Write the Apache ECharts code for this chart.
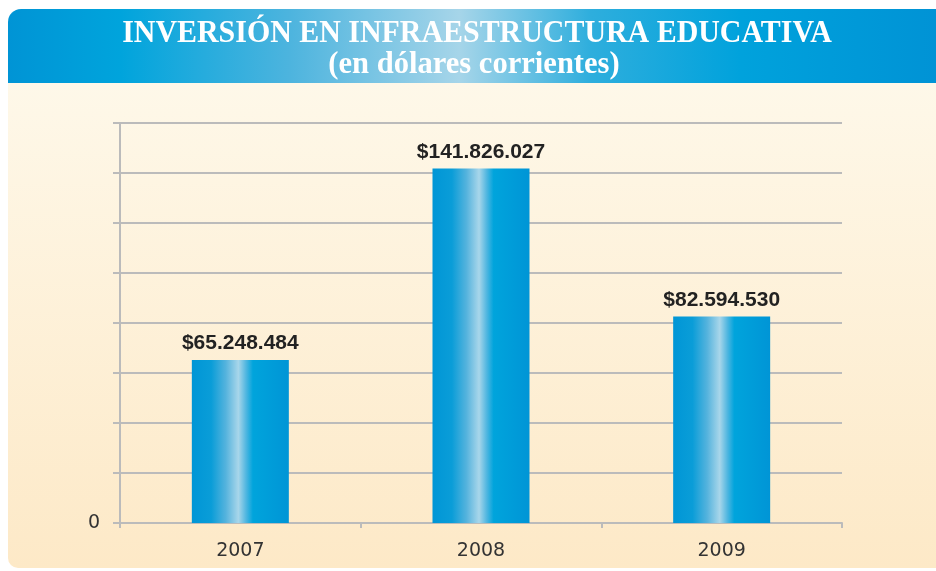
<!DOCTYPE html>
<html>
<head>
<meta charset="utf-8">
<script src="https://cdn.jsdelivr.net/npm/echarts@6/dist/echarts.min.js"></script>
<style>
html,body{margin:0;padding:0;background:#ffffff;}
#chart{width:936px;height:571px;}
</style>
</head>
<body>
<div id="chart"></div>
<script>
var categories = ['2007', '2008', '2009'];
var values = [65248484, 141826027, 82594530];
var titleLine1 = 'INVERSIÓN EN INFRAESTRUCTURA EDUCATIVA';
var titleLine2 = '(en dólares corrientes)';
var yMin = 0, yMax = 160000000, yInterval = 20000000;

function fmt(v) {
  return '$' + String(v).replace(/\B(?=(\d{3})+(?!\d))/g, '.');
}

var chart = echarts.init(document.getElementById('chart'), null, {renderer: 'canvas'});
var option = {
  animation: false,
  backgroundColor: '#ffffff',
  graphic: [
    {
      type: 'rect', z: -10,
      shape: {x: 8, y: 83, width: 940, height: 485, r: [0, 0, 0, 10]},
      style: {
        fill: new echarts.graphic.LinearGradient(0, 0, 0, 1, [
          {offset: 0, color: '#fef8e9'},
          {offset: 1, color: '#fde9c7'}
        ])
      }
    },
    {
      type: 'rect', z: -10,
      shape: {x: 8, y: 9, width: 940, height: 74, r: [13, 0, 0, 0]},
      style: {
        fill: new echarts.graphic.LinearGradient(0, 0, 1, 0, [
          {offset: 0, color: '#0094d5'},
          {offset: 0.12, color: '#00a4dc'},
          {offset: 0.3, color: '#4db4de'},
          {offset: 0.48, color: '#a6d5e9'},
          {offset: 0.62, color: '#2eaedd'},
          {offset: 0.78, color: '#00a2dc'},
          {offset: 1, color: '#0092d5'}
        ])
      }
    },
    {
      type: 'text', z: 20,
      x: 477, y: 34, scaleX: 0.935, originX: 0, originY: 0,
      style: {
        text: titleLine1, align: 'center', verticalAlign: 'middle',
        fill: '#ffffff', font: 'bold 32px "Liberation Serif", "DejaVu Serif", serif'
      }
    },
    {
      type: 'text', z: 20,
      x: 474, y: 65, scaleX: 0.955, originX: 0, originY: 0,
      style: {
        text: titleLine2, align: 'center', verticalAlign: 'middle',
        fill: '#ffffff', font: 'bold 32px "Liberation Serif", "DejaVu Serif", serif'
      }
    }
  ],
  grid: {left: 120, right: 94, top: 123, bottom: 48, containLabel: false},
  xAxis: {
    type: 'category',
    data: categories,
    axisLine: {show: true, lineStyle: {color: '#bbbbbb', width: 2}},
    axisTick: {show: true, alignWithLabel: false, length: 5, lineStyle: {color: '#bbbbbb', width: 2}},
    axisLabel: {color: '#333333', fontSize: 19, fontFamily: '"DejaVu Sans", sans-serif', margin: 19},
    splitLine: {show: false}
  },
  yAxis: {
    type: 'value',
    min: yMin, max: yMax, interval: yInterval,
    axisLine: {show: true, lineStyle: {color: '#bbbbbb', width: 2}},
    axisTick: {show: true, length: 7, lineStyle: {color: '#bbbbbb', width: 2}},
    axisLabel: {
      color: '#333333', fontSize: 19, fontFamily: '"DejaVu Sans", sans-serif', margin: 20,
      formatter: function (v) { return v === 0 ? '0' : ''; }
    },
    splitLine: {show: true, lineStyle: {color: '#bbbbbb', width: 2}}
  },
  series: [{
    type: 'bar',
    data: values,
    barWidth: 97,
    itemStyle: {
      color: new echarts.graphic.LinearGradient(0, 0, 1, 0, [
        {offset: 0, color: '#0096d6'},
        {offset: 0.2, color: '#0a9dd8'},
        {offset: 0.35, color: '#55b3dd'},
        {offset: 0.48, color: '#a8d6ea'},
        {offset: 0.56, color: '#4fb6e0'},
        {offset: 0.63, color: '#00a4dc'},
        {offset: 1, color: '#0095d6'}
      ])
    },
    label: {
      show: true, position: 'top', distance: 6,
      color: '#222222', fontSize: 21, fontWeight: 'bold',
      fontFamily: '"Liberation Sans", Arial, sans-serif',
      formatter: function (p) { return fmt(p.value); }
    }
  }]
};
chart.setOption(option);
</script>
</body>
</html>
